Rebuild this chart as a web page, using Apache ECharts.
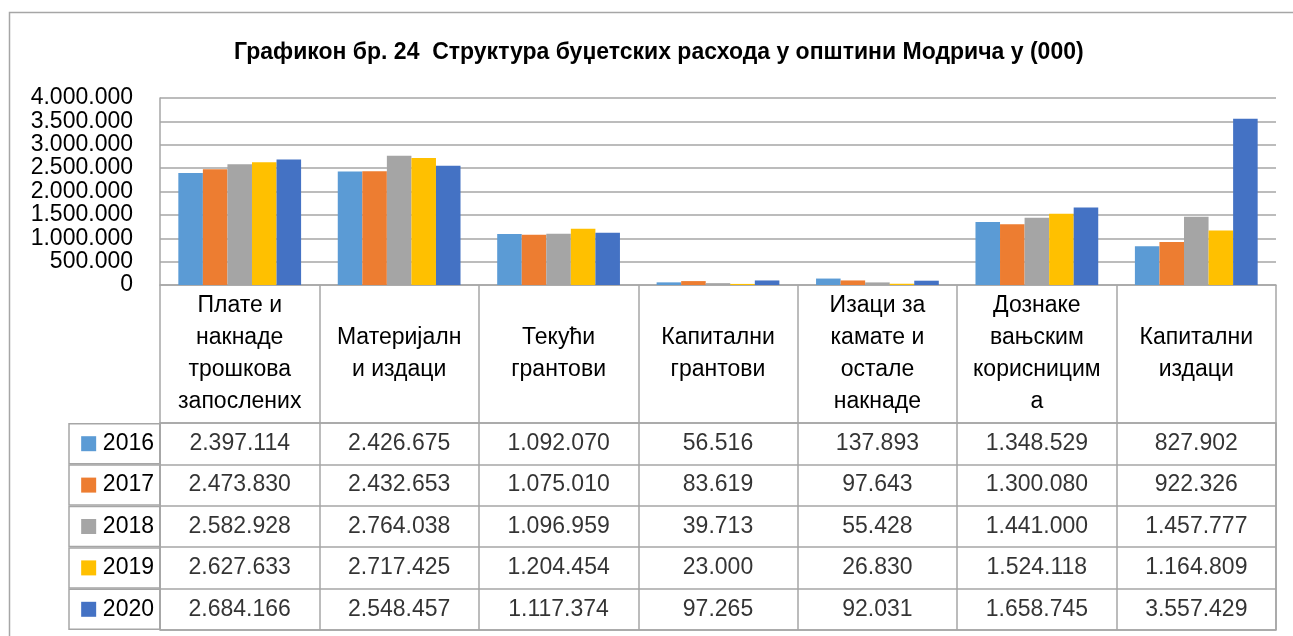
<!DOCTYPE html>
<html>
<head>
<meta charset="utf-8">
<script src="https://cdn.jsdelivr.net/npm/echarts@6/dist/echarts.min.js"></script>
<style>
html, body { margin: 0; padding: 0; background: #fff; }
#chart { width: 1293px; height: 636px; }
</style>
</head>
<body>
<div id="chart"></div>
<script>
// категорије (прелом редова као у Excel табели)
var categories = [
  'Плате и\nнакнаде\nтрошкова\nзапослених',
  'Материјалн\nи издаци',
  'Текући\nгрантови',
  'Капитални\nгрантови',
  'Изаци за\nкамате и\nостале\nнакнаде',
  'Дознаке\nвањским\nкорисницим\nа',
  'Капитални\nиздаци'
]
var years = ['2016', '2017', '2018', '2019', '2020']
var colors = ['#5b9bd5', '#ed7d31', '#a5a5a5', '#ffc000', '#4472c4']

var v2016 = [2397114, 2426675, 1092070, 56516, 137893, 1348529, 827902]
var v2017 = [2473830, 2432653, 1075010, 83619, 97643, 1300080, 922326]
var v2018 = [2582928, 2764038, 1096959, 39713, 55428, 1441000, 1457777]
var v2019 = [2627633, 2717425, 1204454, 23000, 26830, 1524118, 1164809]
var v2020 = [2684166, 2548457, 1117374, 97265, 92031, 1658745, 3557429]
var values = [v2016, v2017, v2018, v2019, v2020]

var yMin = 0
var yMax = 4000000
var yStep = 500000

var font = '"Liberation Sans", Arial, sans-serif'
var lineColor = '#a6a6a6'

function fmt (n) {
  return String(n).replace(/\B(?=(\d{3})+(?!\d))/g, '.')
}

var chart = echarts.init(document.getElementById('chart'))

var rich = { t: { fontSize: 23, color: '#000', fontFamily: font } }
colors.forEach(function (c, i) {
  rich['c' + i] = { width: 15, height: 15, backgroundColor: c }
})

var series = []
years.forEach(function (y, i) {
  series.push({
    name: y,
    type: 'bar',
    xAxisIndex: 0,
    yAxisIndex: 0,
    barGap: '0%',
    barCategoryGap: '23%',
    itemStyle: { color: colors[i] },
    data: values[i]
  })
})
years.forEach(function (y, i) {
  series.push({
    name: y + '-table',
    type: 'scatter',
    xAxisIndex: 1,
    yAxisIndex: 1,
    symbolSize: 0,
    silent: true,
    label: {
      show: true,
      position: 'inside',
      fontSize: 23,
      color: '#000',
      fontFamily: font,
      formatter: function (p) { return fmt(p.value[2]) }
    },
    data: values[i].map(function (v, j) { return [j, i, v] })
  })
})

var option = {
  animation: false,
  textStyle: { fontFamily: font },
  title: {
    text: 'Графикон бр. 24  Структура буџетских расхода у општини Модрича у (000)',
    left: 229,
    top: 36,
    textStyle: { fontSize: 23, fontWeight: 'bold', color: '#000', fontFamily: font }
  },
  graphic: [{
    type: 'rect',
    shape: { x: 9.5, y: 12.5, width: 1400, height: 700 },
    style: { fill: 'none', stroke: lineColor, lineWidth: 1.5 },
    silent: true
  }],
  grid: [
    { left: 160, right: 17, top: 98, height: 187 },
    { left: 160, right: 17, top: 423, height: 207, show: true, borderColor: lineColor, borderWidth: 1.5 }
  ],
  xAxis: [{
    type: 'category',
    gridIndex: 0,
    data: categories,
    axisLine: { show: true, lineStyle: { color: lineColor, width: 1.5 } },
    axisTick: { show: true, interval: 0, length: 138, lineStyle: { color: lineColor, width: 1.5 } },
    axisLabel: {
      interval: 0,
      margin: 69,
      verticalAlign: 'middle',
      lineHeight: 32,
      fontSize: 23,
      color: '#000'
    }
  }, {
    type: 'category',
    gridIndex: 1,
    data: categories,
    axisLine: { show: false },
    axisTick: { show: false },
    axisLabel: { show: false },
    splitLine: { show: true, interval: 0, lineStyle: { color: lineColor, width: 1.5 } }
  }],
  yAxis: [{
    type: 'value',
    gridIndex: 0,
    min: yMin,
    max: yMax,
    interval: yStep,
    axisLine: { show: true, lineStyle: { color: lineColor, width: 1.5 } },
    axisTick: { show: false },
    splitLine: { lineStyle: { color: lineColor, width: 1.5 } },
    axisLabel: {
      margin: 27,
      fontSize: 23,
      color: '#000',
      formatter: function (v) { return fmt(v) }
    }
  }, {
    type: 'category',
    gridIndex: 1,
    inverse: true,
    data: years,
    axisLine: { show: false },
    axisTick: { show: false },
    splitLine: { show: true, interval: 0, lineStyle: { color: lineColor, width: 1.5 } },
    axisLabel: {
      interval: 0,
      hideOverlap: false,
      showMinLabel: true,
      showMaxLabel: true,
      margin: 0,
      align: 'right',
      width: 77,
      height: 40,
      lineHeight: 40,
      padding: [0, 6, 0, 8],
      borderColor: lineColor,
      borderWidth: 1.5,
      formatter: function (v, i) { return '{c' + i + '|}  {t|' + v + '}' },
      rich: rich
    }
  }],
  series: series
}

chart.setOption(option)
</script>
</body>
</html>
